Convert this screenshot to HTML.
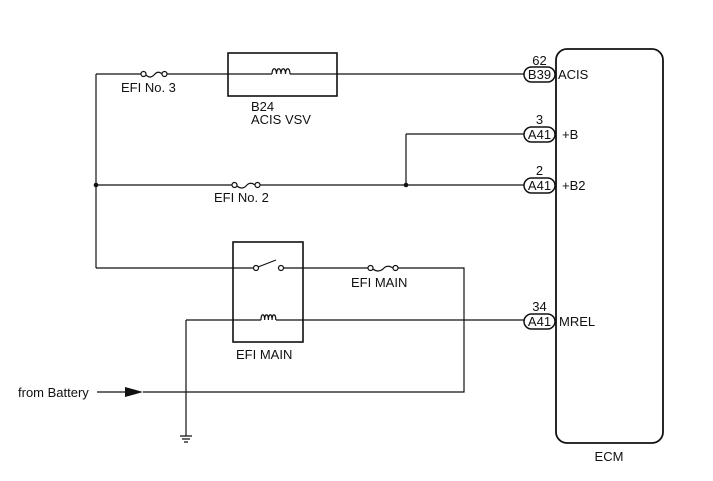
<!DOCTYPE html>
<html><head><meta charset="utf-8"><style>
html,body{margin:0;padding:0;background:#fff;}
svg{display:block;}
text{font-family:"Liberation Sans",Arial,sans-serif;font-size:13px;fill:#111;}
</style></head><body>
<svg width="713" height="481" viewBox="0 0 713 481" xmlns="http://www.w3.org/2000/svg">
<g stroke="#111" stroke-width="1.2" fill="none">
<rect x="556" y="49" width="107" height="394" rx="11" stroke-width="1.8"/>
<path d="M96 74 H141 M167 74 H524"/>
<rect x="228" y="53" width="109" height="43" fill="#fff" stroke-width="1.6"/>
<path d="M228 74 H272 M290 74 H337"/>
<path d="M96 74 V268"/>
<path d="M406 134 H524 M406 134 V185"/>
<path d="M96 185 H232 M260 185 H524"/>
<path d="M96 268 H253 M284 268 H368 M398 268 H464 V392 H143"/>
<rect x="233" y="242" width="70" height="100" stroke-width="1.6"/>
<path d="M186 320 H261 M276 320 H524 M186 320 V436"/>
<path d="M97 392 H125"/>
<path d="M180 436 H192 M182 439 H190 M184 442 H188"/>
<circle cx="143.5" cy="74" r="2.5"/><circle cx="164.5" cy="74" r="2.5"/>
<path d="M146 75 q4 4 8 0 q4 -5 8 -1"/>
<circle cx="234.5" cy="185" r="2.5"/><circle cx="257.5" cy="185" r="2.5"/>
<path d="M237 186 q5 4 9 0 q4 -5 9 -1"/>
<circle cx="370.5" cy="268" r="2.5"/><circle cx="395.5" cy="268" r="2.5"/>
<path d="M373 269 q5 4 10 0 q4 -5 10 -1"/>
<circle cx="256" cy="268" r="2.5"/><circle cx="281" cy="268" r="2.5"/>
<path d="M258 267 L276 260"/>
<path d="M272 74 c0 -7 4.5 -7 4.5 0 c0 -7 4.5 -7 4.5 0 c0 -7 4.5 -7 4.5 0 c0 -7 4.5 -7 4.5 0"/>
<path d="M261 320 c0 -7 3.7 -7 3.7 0 c0 -7 3.7 -7 3.7 0 c0 -7 3.7 -7 3.7 0 c0 -7 3.7 -7 3.7 0"/>
<rect x="524" y="67" width="31" height="15" rx="7.5" fill="#fff" stroke-width="1.5"/>
<rect x="524" y="127" width="31" height="15" rx="7.5" fill="#fff" stroke-width="1.5"/>
<rect x="524" y="178" width="31" height="15" rx="7.5" fill="#fff" stroke-width="1.5"/>
<rect x="524" y="314" width="31" height="15" rx="7.5" fill="#fff" stroke-width="1.5"/>
</g>
<circle cx="96" cy="185" r="2.3" fill="#111"/>
<circle cx="406" cy="185" r="2.3" fill="#111"/>
<polygon points="125,387 143,392 125,397" fill="#111"/>
<text x="539.5" y="79" text-anchor="middle">B39</text>
<text x="539.5" y="139" text-anchor="middle">A41</text>
<text x="539.5" y="190" text-anchor="middle">A41</text>
<text x="539.5" y="326" text-anchor="middle">A41</text>
<text x="539.5" y="65" text-anchor="middle">62</text>
<text x="539.5" y="124" text-anchor="middle">3</text>
<text x="539.5" y="175" text-anchor="middle">2</text>
<text x="539.5" y="311" text-anchor="middle">34</text>
<text x="558" y="79">ACIS</text>
<text x="562" y="139">+B</text>
<text x="562" y="190">+B2</text>
<text x="559" y="326">MREL</text>
<text x="609" y="461" text-anchor="middle">ECM</text>
<text x="121" y="92">EFI No. 3</text>
<text x="251" y="111">B24</text>
<text x="251" y="124">ACIS VSV</text>
<text x="214" y="202">EFI No. 2</text>
<text x="351" y="287">EFI MAIN</text>
<text x="236" y="359">EFI MAIN</text>
<text x="18" y="397">from Battery</text>
</svg>
</body></html>
